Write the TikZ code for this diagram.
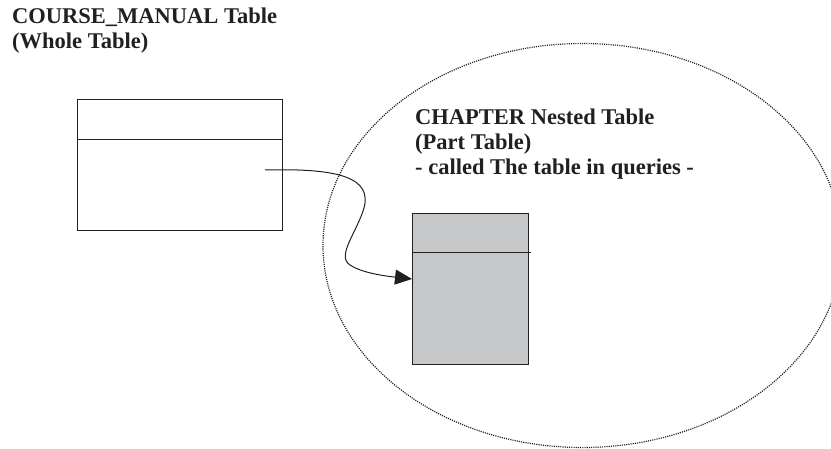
\documentclass[tikz,border=0pt]{standalone}
\usepackage{fontspec}
\setmainfont{Liberation Serif}
\usetikzlibrary{arrows.meta}
\definecolor{partgray}{HTML}{C6C7C9}
\definecolor{ink}{HTML}{231F20}
\begin{document}
\begin{tikzpicture}[x=1pt,y=-1pt,
    caption/.style={anchor=base west,inner sep=0pt,align=left,text=ink,
        font=\fontsize{22.5}{25}\selectfont\bfseries},
    tablebox/.style={draw=ink,line width=1pt,inner sep=0pt,anchor=north west},
    link/.style={draw=ink,line width=1pt,-{Triangle[length=17pt,width=15pt]}}]
    \useasboundingbox (0,0) rectangle (831,449);
    % scope of the part table
    \draw[ink,line width=1.2pt,dash pattern=on 1.1pt off 1.1pt] (582.5,245.5) ellipse [x radius=259.5,y radius=202];
    \node[caption] (wholetitle) at (12,49) {COURSE\_MANUAL Table\\(Whole Table)};
    \node[caption] (parttitle) at (415,175) {CHAPTER Nested Table\\(Part Table)\\- called The table in queries -};
    % whole table
    \node[tablebox,minimum width=205pt,minimum height=131pt] (whole) at (77,99) {};
    \draw[ink,line width=1pt] ([yshift=-41pt]whole.north west) -- ([yshift=-41pt]whole.north east);
    % part table
    \node[tablebox,fill=partgray,minimum width=116pt,minimum height=151pt] (part) at (412,213) {};
    \draw[ink,line width=1pt] ([yshift=-40pt]part.north west) -- ([yshift=-40pt,xshift=2pt]part.north east);
    \coordinate (src) at (265,170);
    \coordinate (hit) at (part.west |- 0,279);
    \draw[link] (src) .. controls (340,168) and (372,178) .. (364,208)
        .. controls (357,232) and (336,256) .. (350,265)
        .. controls (362,273) and (385,276) .. (hit);
\end{tikzpicture}
\end{document}
